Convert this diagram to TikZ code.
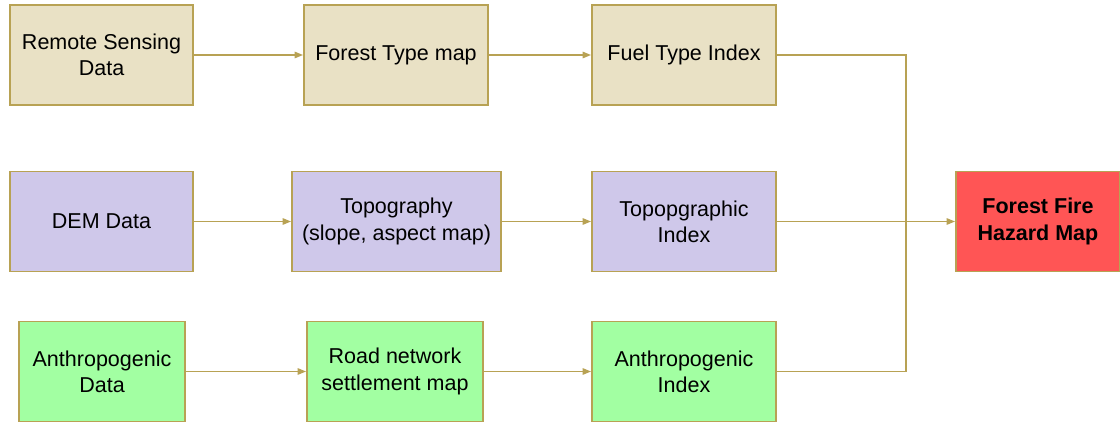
\documentclass[tikz,border=0pt]{standalone}
\usepackage{fontspec}
\setmainfont{Liberation Sans}
\usetikzlibrary{arrows.meta}
\definecolor{edgegold}{RGB}{184,162,84}
\definecolor{beigefill}{RGB}{233,225,197}
\definecolor{lilacfill}{RGB}{207,200,234}
\definecolor{greenfill}{RGB}{162,255,162}
\definecolor{redfill}{RGB}{255,85,85}
\tikzset{
  box/.style={draw=edgegold, line width=1.2pt, align=center, minimum height=2.5cm,
    font=\fontsize{15.3}{18.6}\selectfont, inner sep=0pt},
  flow/.style={draw=edgegold, line width=1.2pt, -{Triangle[length=6pt,width=4.5pt]}},
  link/.style={draw=edgegold, line width=1.2pt}
}
\begin{document}
\begin{tikzpicture}[x=0.025cm, y=-0.025cm]
      \useasboundingbox (0,0) rectangle (1120,423);
      % first row
      \node[box, fill=beigefill, minimum width=4.575cm] (rsd) at (101.5,55) {Remote Sensing\\Data};
      \node[box, fill=beigefill, minimum width=4.6cm] (ftm) at (396,55) {Forest Type map};
      \node[box, fill=beigefill, minimum width=4.6cm] (fti) at (684,55) {Fuel Type Index};
      % second row
      \node[box, fill=lilacfill, minimum width=4.575cm] (dem) at (101.5,221.5) {DEM Data};
      \node[box, fill=lilacfill, minimum width=5.225cm] (topo) at (396.5,221.5) {Topography\\(slope, aspect map)};
      \node[box, fill=lilacfill, minimum width=4.6cm] (tpi) at (684,221.5) {Topopgraphic\\Index};
      % third row
      \node[box, fill=greenfill, minimum width=4.15cm] (anthd) at (102,371.5) {Anthropogenic\\Data};
      \node[box, fill=greenfill, minimum width=4.4cm] (road) at (395,371.5) {Road network\\settlement map};
      \node[box, fill=greenfill, minimum width=4.6cm] (anthi) at (684,371.5) {Anthropogenic\\Index};
      % result
      \node[box, fill=redfill, minimum width=4.1cm, font=\fontsize{15.3}{18.6}\selectfont\bfseries] (hazard) at (1038,221.5) {Forest Fire\\Hazard Map};
      \coordinate (join) at (906,221.5);
      \draw[flow] (rsd) -- (ftm);
      \draw[flow] (ftm) -- (fti);
      \draw[flow] (dem) -- (topo);
      \draw[flow] (topo) -- (tpi);
      \draw[flow] (anthd) -- (road);
      \draw[flow] (road) -- (anthi);
      \draw[link] (fti.east) -| (join);
      \draw[link] (anthi.east) -| (join);
      \draw[flow] (tpi) -- (hazard);
    \end{tikzpicture}
\end{document}
